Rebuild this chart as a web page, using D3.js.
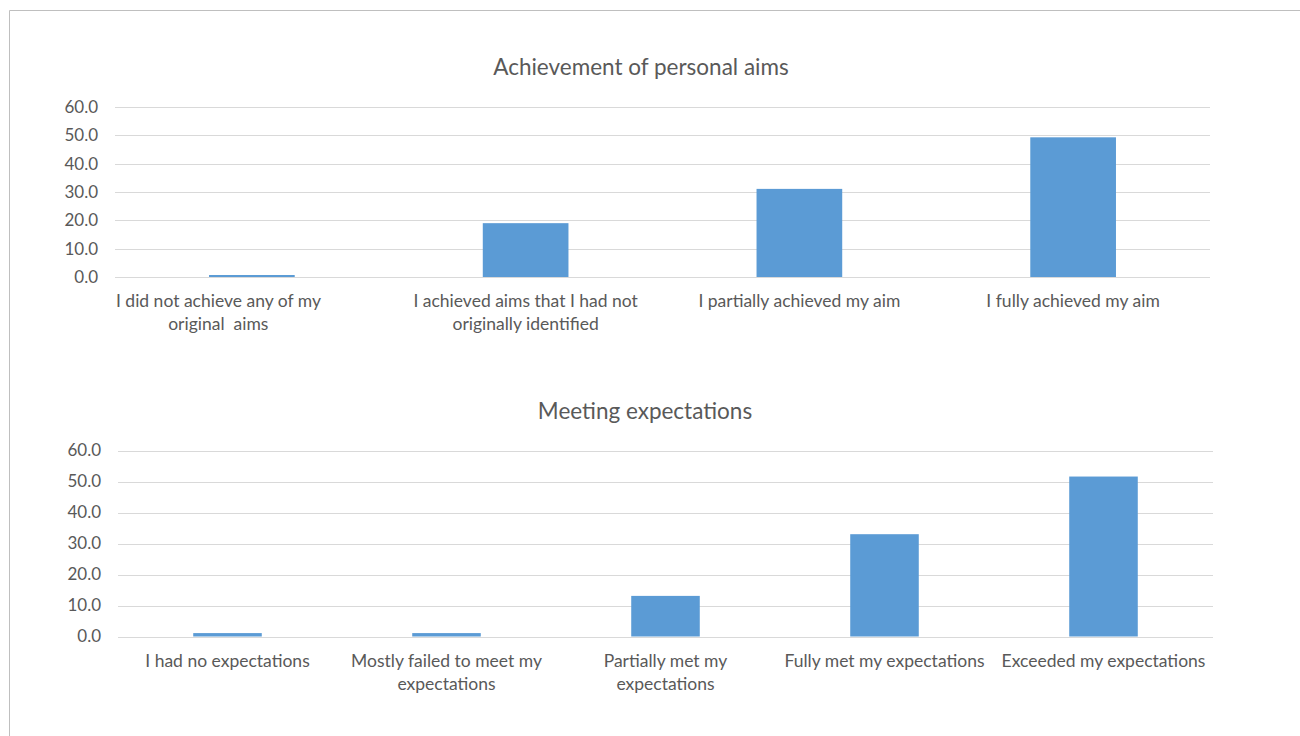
<!DOCTYPE html>
<html lang="en">
<head>
<meta charset="UTF-8">
<script src="https://d3js.org/d3.v7.min.js"></script>
<style>
    body { margin: 0; background: #fff; }
    #plot { position: absolute; left: 0; top: 0; width: 1300px; height: 736px; }
    text { font-family: Lato, "Open Sans", sans-serif; fill: #595959; }
</style>
</head>
<body>
<div id="plot"></div>
<script>
// chart 1: achievement of personal aims
// (the first category carries trailing blanks in the source sheet, which pushes it left)
const aimsTitle = "Achievement of personal aims";
const aimsCategories = [
    ["I did not achieve any of my               ", "original  aims               "],
    ["I achieved aims that I had not", "originally identified"],
    ["I partially achieved my aim"],
    ["I fully achieved my aim"]
];
const aimsValues = [0.7, 19.0, 31.1, 49.3];

// chart 2: meeting expectations
const expTitle = "Meeting expectations";
const expCategories = [
    ["I had no expectations"],
    ["Mostly failed to meet my", "expectations"],
    ["Partially met my", "expectations"],
    ["Fully met my expectations"],
    ["Exceeded my expectations"]
];
const expValues = [1.1, 1.1, 13.1, 33.0, 51.6];

const yTicks = [0, 10, 20, 30, 40, 50, 60];

const barColor = "#5b9bd5";
const gridColor = "#d9d9d9";

const svg = d3.select("#plot")
  .append("svg")
    .attr("width", 1300)
    .attr("height", 736);

// outer chart border (only top and left visible)
svg.append("path")
    .attr("d", "M9.5,740 V10.5 H1310")
    .attr("fill", "none")
    .attr("stroke", "#bfbfbf")
    .attr("stroke-width", 1);

function barChart(opts) {
    const x = d3.scaleBand()
        .domain(d3.range(opts.categories.length))
        .range([opts.left, opts.right])
        .padding(0);

    const y = d3.scaleLinear()
        .domain([0, 60])
        .range([opts.bottom, opts.top]);

    const g = svg.append("g");

    // gridlines
    g.append("g")
      .selectAll("line")
      .data(yTicks)
      .join("line")
        .attr("x1", opts.left)
        .attr("x2", opts.right)
        .attr("y1", d => Math.round(y(d)) + 0.5)
        .attr("y2", d => Math.round(y(d)) + 0.5)
        .attr("stroke", gridColor)
        .attr("stroke-width", 1);

    // y axis labels
    const yAxis = d3.axisLeft(y)
        .tickValues(yTicks)
        .tickFormat(d3.format(".1f"))
        .tickSize(0)
        .tickPadding(0);
    g.append("g")
        .attr("transform", `translate(${opts.labelX}, 0)`)
        .call(yAxis)
        .call(a => a.select(".domain").remove())
        .call(a => a.selectAll("text")
            .attr("fill", "#595959")
            .style("font-size", "17px")
            .style("font-family", "Lato, sans-serif"));

    // bars
    const barW = x.bandwidth() * 0.313;
    g.append("g")
      .selectAll("rect")
      .data(opts.values)
      .join("rect")
        .attr("x", (d, i) => x(i) + (x.bandwidth() - barW) / 2)
        .attr("y", d => y(d))
        .attr("width", barW)
        .attr("height", d => y(0) - y(d))
        .attr("fill", barColor);

    // category labels
    g.append("g")
      .selectAll("text")
      .data(opts.categories)
      .join("text")
        .attr("text-anchor", "middle")
        .attr("x", (d, i) => x(i) + x.bandwidth() / 2)
        .attr("y", opts.catY)
        .attr("xml:space", "preserve")
        .style("font-size", "17.5px")
        .style("white-space", "pre")
      .selectAll("tspan")
      .data(d => d)
      .join("tspan")
        .attr("x", function () { return this.parentNode.getAttribute("x"); })
        .attr("dy", (d, i) => i === 0 ? 0 : 22.5)
        .text(d => d);

    // title
    svg.append("text")
        .attr("x", opts.titleX)
        .attr("y", opts.titleY)
        .attr("text-anchor", "middle")
        .style("font-size", "22.5px")
        .text(opts.title);
}

barChart({
    title: aimsTitle, categories: aimsCategories, values: aimsValues,
    left: 115, right: 1210, top: 107, bottom: 277,
    labelX: 98, catY: 307, titleX: 641, titleY: 75
});

barChart({
    title: expTitle, categories: expCategories, values: expValues,
    left: 118, right: 1213, top: 450.5, bottom: 636.5,
    labelX: 101, catY: 667, titleX: 645, titleY: 419
});
</script>
</body>
</html>
